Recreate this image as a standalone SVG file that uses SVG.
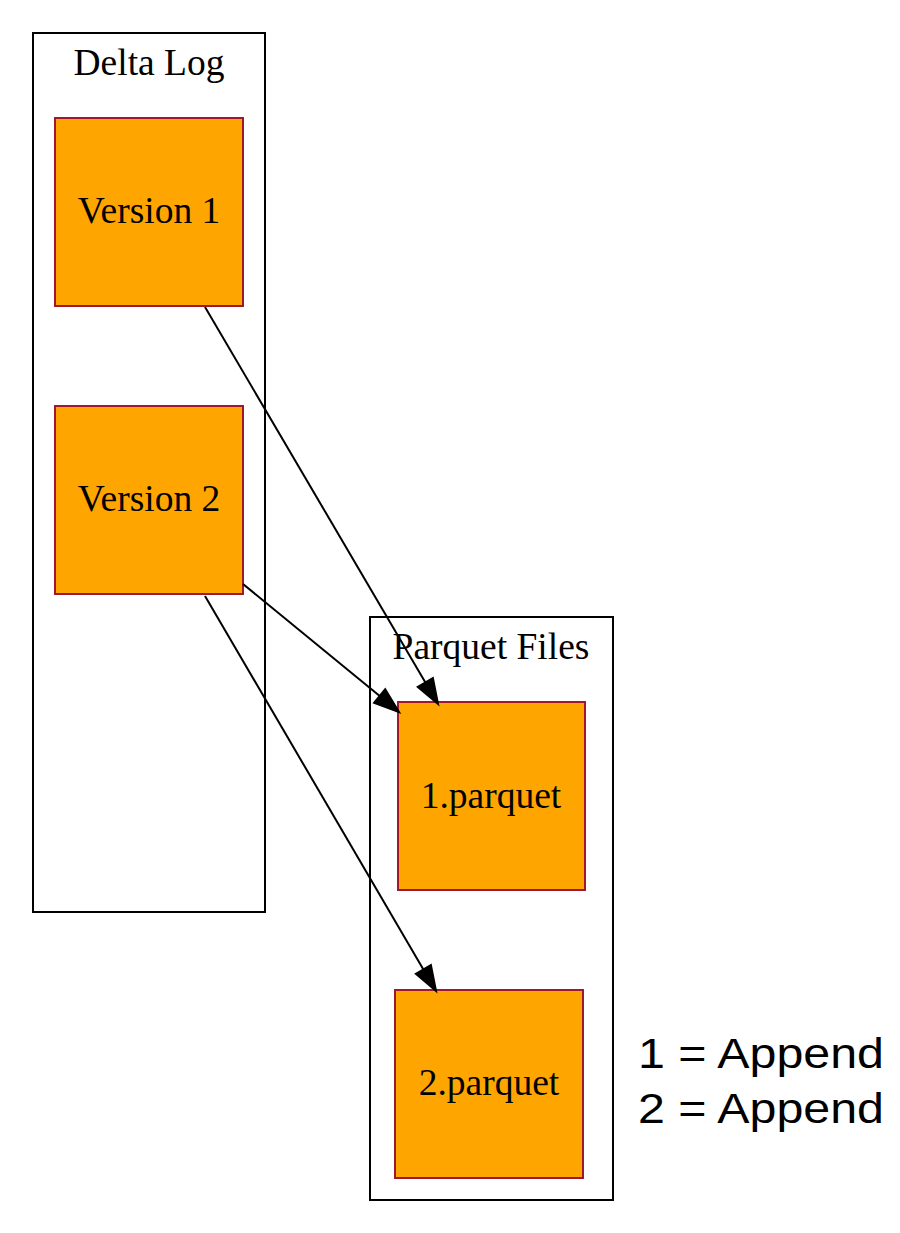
<svg xmlns="http://www.w3.org/2000/svg" width="900" height="1233" viewBox="0 0 900 1233">
  <style>
    .cluster { fill: none; stroke: #000; stroke-width: 2; }
    .node rect { fill: #ffa500; stroke: #a01830; stroke-width: 2; }
    .lbl { font-family: "Liberation Serif", "Times New Roman", serif; font-size: 37.5px; fill: #000; text-anchor: middle; }
    .edge line { stroke: #000; stroke-width: 2; }
    .edge polygon { fill: #000; stroke: #000; stroke-width: 2; }
    .legend { font-family: "Liberation Sans", Arial, Helvetica, sans-serif; font-size: 43px; fill: #000; }
  </style>
  <rect width="900" height="1233" fill="#fff"/>

  <!-- clusters -->
  <g id="cluster_delta_log">
    <rect class="cluster" x="33" y="33" width="232" height="879"/>
    <text class="lbl" x="149" y="75">Delta Log</text>
  </g>
  <g id="cluster_parquet_files">
    <rect class="cluster" x="370" y="617" width="243" height="583"/>
    <text class="lbl" x="491" y="659">Parquet Files</text>
  </g>

  <!-- nodes -->
  <g id="version1" class="node">
    <rect x="55" y="118" width="188" height="188"/>
    <text class="lbl" x="149" y="223">Version 1</text>
  </g>
  <g id="version2" class="node">
    <rect x="55" y="406" width="188" height="188"/>
    <text class="lbl" x="149" y="511">Version 2</text>
  </g>
  <g id="parquet1" class="node">
    <rect x="398" y="702" width="187" height="188"/>
    <text class="lbl" x="491" y="808">1.parquet</text>
  </g>
  <g id="parquet2" class="node">
    <rect x="395" y="990" width="188" height="188"/>
    <text class="lbl" x="489" y="1095">2.parquet</text>
  </g>

  <!-- connectors -->
  <g id="edges" class="edge">
    <line x1="205" y1="307" x2="425.4" y2="682.4"/>
    <polygon points="417.8,686.9 438,704 432.9,678 417.8,686.9"/>
    <line x1="243" y1="584" x2="379.7" y2="696.1"/>
    <polygon points="374.1,702.9 399,712 385.2,689.3 374.1,702.9"/>
    <line x1="205" y1="596" x2="423.4" y2="969.4"/>
    <polygon points="415.8,973.8 436,991 430.9,965 415.8,973.8"/>
  </g>

  <!-- legend -->
  <g id="legend">
    <text class="legend" x="638" y="1068" textLength="246" lengthAdjust="spacingAndGlyphs">1 = Append</text>
    <text class="legend" x="638" y="1123" textLength="246" lengthAdjust="spacingAndGlyphs">2 = Append</text>
  </g>
</svg>
